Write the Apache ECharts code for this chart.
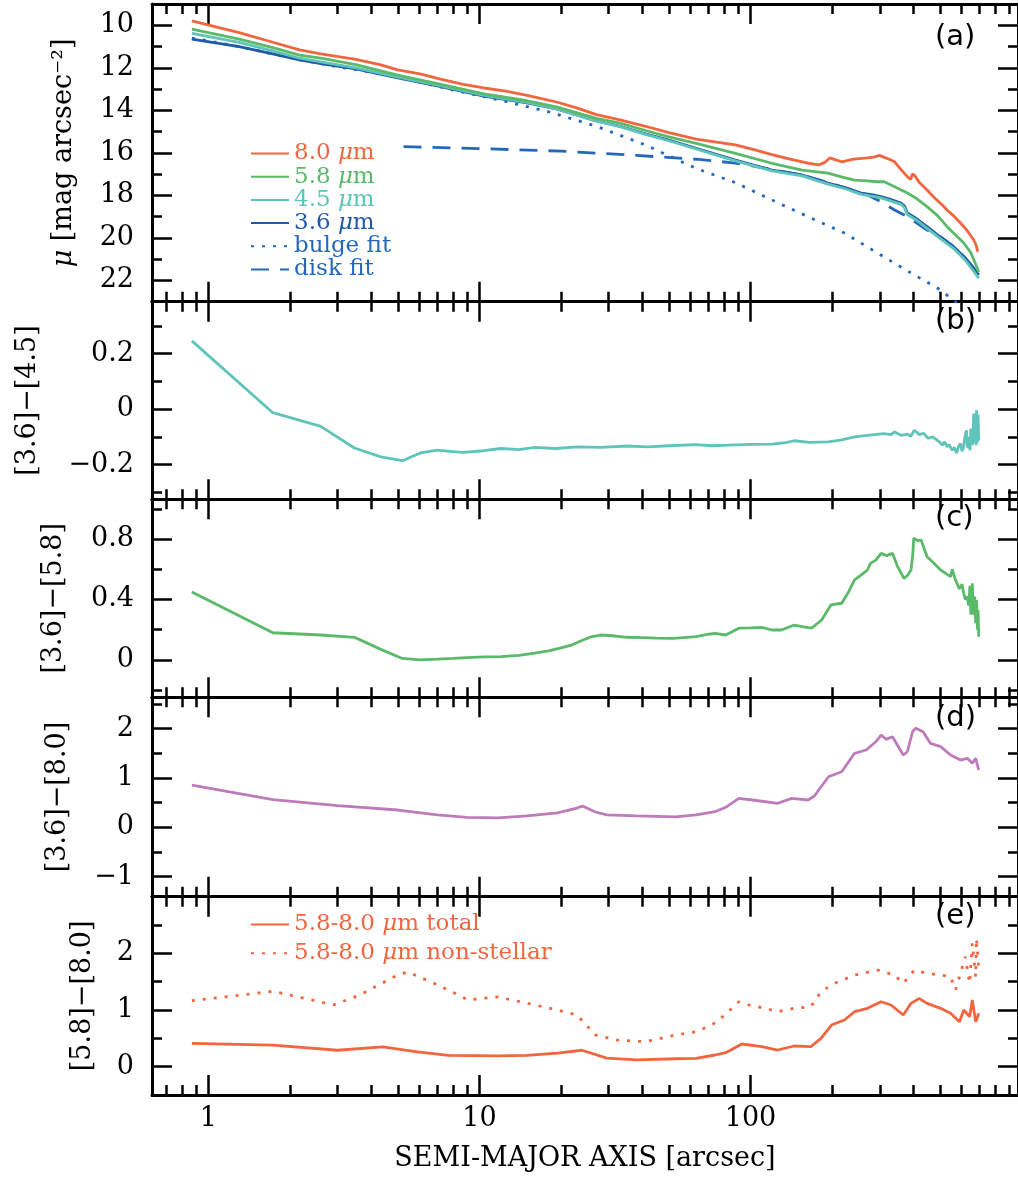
<!DOCTYPE html>
<html><head><meta charset="utf-8">
<script src="https://cdn.jsdelivr.net/npm/echarts@6/dist/echarts.min.js"></script>
<style>html,body{margin:0;padding:0;background:#fff}#c{width:1018px;height:1185px}</style>
</head><body><div id="c"></div>
<script>
// ---------------- DATA ----------------
// x axis ticks (semi-major axis, arcsec)
const xMajorTicks = [1, 10, 100];
const xMinorTicks = [0.7,0.8,0.9,2,3,4,5,6,7,8,9,20,30,40,50,60,70,80,90,200,300,400,500,600,700,800,900];

// Panel (a): surface brightness profiles [mag arcsec^-2]
const r80  = [0.87,1.3,1.73,2.17,2.6,3.5,4.3,5.0,6.1,7.0,8.7,10.4,12.5,15,19.4,23,27,33,41,50,63,75,88,103,120,140,163,178,188,196,205,217,240,270,285,299,310,325,340,360,379,390,395,402,420,448,480,510,531,560,595,630,666,680,689];
const mu80 = [9.79,10.35,10.8,11.16,11.35,11.6,11.85,12.1,12.3,12.5,12.78,12.95,13.1,13.3,13.62,13.9,14.2,14.45,14.75,15.05,15.35,15.5,15.63,15.85,16.08,16.3,16.48,16.57,16.45,16.24,16.32,16.42,16.3,16.24,16.2,16.12,16.2,16.3,16.42,16.8,17.12,17.25,17.0,17.04,17.4,17.75,18.15,18.45,18.69,18.95,19.3,19.65,20.1,20.35,20.65];
const r58  = [0.87,1.3,1.73,2.17,2.6,3.5,5.0,7.0,10.4,15,19.4,27,33,41,50,63,88,120,155,193,220,242,270,294,310,340,379,410,448,490,531,570,612,650,683,695];
const mu58 = [10.18,10.65,11.05,11.4,11.55,11.85,12.34,12.75,13.23,13.55,13.85,14.38,14.6,14.95,15.25,15.55,16.02,16.49,16.81,16.95,17.15,17.28,17.32,17.36,17.35,17.59,17.89,18.15,18.53,18.95,19.47,19.85,20.24,20.7,21.36,21.6];
const r45  = [0.87,1.3,1.73,2.17,2.6,3.5,5.0,7.0,10.4,15,19.4,27,33,41,50,63,88,120,155,193,225,256,280,303,330,359,370,379,410,448,500,562,620,660,695];
const mu45 = [10.38,10.8,11.2,11.55,11.72,12.0,12.44,12.82,13.3,13.63,13.94,14.5,14.77,15.13,15.43,15.82,16.38,16.85,17.08,17.47,17.7,17.95,18.03,18.12,18.27,18.42,18.58,18.9,19.17,19.55,20.02,20.5,21.05,21.5,21.9];
const r36  = [0.87,1.3,1.73,2.17,2.6,3.5,5.0,7.0,10.4,15,19.4,27,33,41,50,63,88,120,155,193,225,256,280,303,330,359,370,379,410,448,500,562,620,660,695];
const mu36 = [10.65,11.0,11.35,11.63,11.8,12.05,12.48,12.85,13.33,13.65,13.94,14.5,14.75,15.11,15.4,15.79,16.34,16.81,17.04,17.42,17.65,17.89,17.97,18.06,18.2,18.36,18.5,18.83,19.1,19.47,19.95,20.42,20.95,21.35,21.75];
const rBulge  = [0.87,1.3,1.73,2.17,3.0,5.0,7.7,11.7,17.8,27,41,63,88,120,163,222,294,391,503,547,590];
const muBulge = [10.6,11.0,11.35,11.62,11.95,12.42,13.0,13.5,14.05,14.75,15.63,16.73,17.4,18.22,19.0,19.77,20.71,21.65,22.45,22.83,23.15];
const rDisk  = [5.25,10,20,38,63,88,120,155,200,270,303,340,379,448,503,563,620,683];
const muDisk = [15.71,15.8,15.92,16.12,16.3,16.48,16.78,17.04,17.45,17.98,18.3,18.69,19.0,19.63,19.95,20.42,20.95,21.65];

// Panel (b): [3.6]-[4.5]
const rB = [0.87,1.73,2.6,3.46,4.33,5.2,6.06,7.0,7.8,8.7,10.4,12,14,16,19,23,28,35,42,50,63,72,83,100,120,135,145,165,193,215,242,270,310,330,340,360,379,390,402,420,435,452,470,500,510,520,531,540,555,565,576,585,595,603,610,618,626,630,635,640,645,650,655,660,666,669,672,675,678,680,682,685,688,691,695];
const c3645 = [0.246,-0.013,-0.062,-0.14,-0.172,-0.186,-0.158,-0.148,-0.152,-0.156,-0.15,-0.142,-0.146,-0.138,-0.142,-0.136,-0.138,-0.133,-0.136,-0.132,-0.128,-0.132,-0.13,-0.127,-0.126,-0.121,-0.114,-0.12,-0.118,-0.112,-0.1,-0.095,-0.088,-0.092,-0.082,-0.095,-0.09,-0.098,-0.076,-0.092,-0.087,-0.105,-0.1,-0.12,-0.13,-0.118,-0.136,-0.128,-0.148,-0.138,-0.159,-0.135,-0.124,-0.152,-0.14,-0.1,-0.076,-0.13,-0.14,-0.1,-0.148,-0.07,-0.09,-0.13,-0.016,-0.12,-0.112,-0.04,-0.05,-0.13,-0.004,-0.1,-0.12,-0.02,-0.112];

// Panel (c): [3.6]-[5.8]
const rC = [0.87,1.73,2.6,3.46,4.33,5.2,6.06,7.0,8.0,9.0,10.4,12,14,16,18,20,22,24,26,28,31,35,40,45,52,63,70,74,81,90.6,100,110,120,130,145,155,168,183,198,217,230,242,255,270,277,290,303,318,334,349,368,380,391,397,400,413,426,448,475,503,547,555,563,570,580,588,596,603,610,620,631,638,645,650,658,663,667,672,677,680,682,685,688,691,695];
const c3658 = [0.45,0.18,0.165,0.15,0.07,0.01,0.0,0.005,0.01,0.015,0.02,0.022,0.03,0.045,0.06,0.08,0.1,0.13,0.155,0.165,0.16,0.15,0.148,0.145,0.143,0.154,0.17,0.176,0.165,0.21,0.212,0.216,0.198,0.198,0.231,0.22,0.21,0.264,0.364,0.375,0.45,0.529,0.56,0.595,0.639,0.66,0.705,0.69,0.705,0.617,0.54,0.56,0.595,0.7,0.805,0.79,0.793,0.683,0.64,0.595,0.551,0.6,0.595,0.53,0.5,0.47,0.463,0.5,0.45,0.4,0.419,0.36,0.49,0.3,0.507,0.35,0.3,0.42,0.243,0.35,0.397,0.25,0.2,0.33,0.154];

// Panel (d): [3.6]-[8.0]
const rD = [0.87,1.73,3.0,5.0,7.0,9.0,11.7,15,19.4,22.9,24,26.8,29.5,38,53,63,74,81,90.6,101.7,126,142,163,172,194,217,242,267,290,303.5,316,334,366,379,396,407,433,461,503,547,595,631,658,677,695];
const c3680 = [0.856,0.56,0.44,0.35,0.25,0.2,0.19,0.23,0.29,0.39,0.43,0.31,0.25,0.23,0.21,0.25,0.316,0.405,0.587,0.553,0.486,0.587,0.553,0.634,1.024,1.126,1.498,1.565,1.733,1.868,1.781,1.834,1.464,1.53,1.935,2.004,1.935,1.7,1.632,1.464,1.362,1.397,1.296,1.397,1.16];

// Panel (e): [5.8]-[8.0]
const rTot = [0.87,1.73,3.0,4.4,5.9,7.7,11.7,15,19.4,23.9,29.5,38,53,63,74,81,93,110,126,145,167,182,199,222,242,270,303,330,366,391,419,448,503,547,590,612,643,658,677,695];
const c5880tot = [0.41,0.38,0.29,0.35,0.26,0.2,0.19,0.2,0.24,0.29,0.15,0.12,0.14,0.148,0.206,0.247,0.4,0.353,0.294,0.365,0.353,0.5,0.735,0.824,0.97,1.03,1.146,1.088,0.912,1.118,1.206,1.118,1.03,0.942,0.794,1.0,0.882,1.176,0.794,0.942];
const rNon = [0.87,1.73,2.9,3.6,5.0,5.45,7.05,9.07,11.7,15,19.4,22.9,26.8,32.2,41,53,63,72,79,90.6,99,113,126,145,167,182,204,242,294,340,366,402,448,503,547,570,595,620,643,658,677,682,695];
const c5880non = [1.164,1.33,1.09,1.26,1.62,1.67,1.44,1.18,1.23,1.12,1.0,0.91,0.56,0.47,0.44,0.56,0.617,0.735,0.882,1.146,1.088,1.03,0.97,1.03,1.058,1.323,1.47,1.617,1.705,1.617,1.47,1.705,1.647,1.617,1.587,1.353,1.647,1.94,1.47,2.176,1.587,2.265,1.705];

// y tick values per panel
const yMajor = [[10,12,14,16,18,20,22],[-0.2,0,0.2],[0,0.4,0.8],[-1,0,1,2],[0,1,2]];
const yMinor = [[11,13,15,17,19,21],[-0.3,-0.1,0.1,0.3],[-0.2,0.2,0.6,1.0],[-0.5,0.5,1.5,2.5],[0.5,1.5,2.5]];
const yRange = [[9,23],[-0.325,0.387],[-0.247,1.0625],[-1.405,2.632],[-0.5,3.0]];
const yTitles = ['{i|μ} [mag arcsec⁻²]','[3.6]−[4.5]','[3.6]−[5.8]','[3.6]−[8.0]','[5.8]−[8.0]'];
const panelTags = ['(a)','(b)','(c)','(d)','(e)'];

// ---------------- LAYOUT / STYLE ----------------
const layout = [
  {top:4, height:297.7, gap:75, tagY:37.5},
  {top:301.7, height:197.6, gap:111, tagY:322},
  {top:499.3, height:198, gap:85, tagY:519},
  {top:697.3, height:199.4, gap:81, tagY:719},
  {top:896.7, height:198.3, gap:56, tagY:917}
];
const XMIN = 0.62, XMAX = 970;
const SERIF = 'DejaVu Serif';
const C = {o:'#F1663F', g:'#5BB96A', t:'#5FC4B9', b:'#1F5BAA', fit:'#2468BE', p:'#BE7BBA'};

const grids = [], xAxes = [], yAxes = [];
const tickStyle = {color:'#000', width:2.5};
layout.forEach((L, k) => {
  grids.push({left:152, right:-7, top:L.top, height:L.height});
  const last = k === 4;
  [['bottom',true],['bottom',false],['top',true],['top',false]].forEach(([pos, major], j) => {
    const ax = {
      type:'log', logBase:10, gridIndex:k, position:pos, min:XMIN, max:XMAX,
      axisLine:{show:major, onZero:false, lineStyle:{color:'#000', width:3}},
      axisTick:{show:true, inside:true, length:major?20:10, customValues: major?xMajorTicks:xMinorTicks, lineStyle:tickStyle},
      axisLabel:{show: last && j===0, customValues:xMajorTicks, margin:10, color:'#000', fontFamily:SERIF, fontSize:27, formatter:v=>String(v)},
      splitLine:{show:false}, minorTick:{show:false}, axisPointer:{show:false}
    };
    if (last && j===0) {
      ax.name = 'SEMI-MAJOR AXIS [arcsec]';
      ax.nameLocation = 'middle'; ax.nameGap = 50;
      ax.nameTextStyle = {fontFamily:SERIF, fontSize:27, color:'#000'};
    }
    xAxes.push(ax);
  });
  [['left',true],['left',false],['right',true],['right',false]].forEach(([pos, major], j) => {
    const ax = {
      type:'value', gridIndex:k, position:pos, min:yRange[k][0], max:yRange[k][1], inverse:k===0,
      axisLine:{show:major, onZero:false, lineStyle:{color:'#000', width:3}},
      axisTick:{show:true, inside:true, length:major?20:10, customValues: major?yMajor[k]:yMinor[k], lineStyle:tickStyle},
      axisLabel:{show:j===0, customValues:yMajor[k], margin:18, color:'#000', fontFamily:SERIF, fontSize:27,
        formatter:v=>String(v).replace('-','−')},
      splitLine:{show:false}, minorTick:{show:false}
    };
    if (j===0) {
      ax.name = yTitles[k]; ax.nameLocation='middle'; ax.nameGap=L.gap;
      ax.nameTextStyle = {fontFamily:SERIF, fontSize:27, color:'#000', rich:{i:{fontFamily:SERIF, fontSize:27, fontStyle:'italic', color:'#000'}}};
    }
    yAxes.push(ax);
  });
});

const zip = (xs, ys) => xs.map((x,i)=>[x, ys[i]]);
function line(name, k, xs, ys, color, type, width) {
  return {name, type:'line', xAxisIndex:4*k, yAxisIndex:4*k, data:zip(xs,ys), symbol:'none', showSymbol:false,
    lineStyle:{color, width:width||2.8, type:type||'solid'}, itemStyle:{color}, clip:true, z:3};
}
const series = [
  line('bulge fit',0,rBulge,muBulge,C.fit,[3,8],2.8),
  line('disk fit',0,rDisk,muDisk,C.fit,[18,11],2.8),
  line('3.6 μm',0,r36,mu36,C.b),
  line('4.5 μm',0,r45,mu45,C.t),
  line('5.8 μm',0,r58,mu58,C.g),
  line('8.0 μm',0,r80,mu80,C.o),
  line('[3.6]-[4.5]',1,rB,c3645,C.t),
  line('[3.6]-[5.8]',2,rC,c3658,C.g),
  line('[3.6]-[8.0]',3,rD,c3680,C.p),
  line('5.8-8.0 μm total',4,rTot,c5880tot,C.o),
  line('5.8-8.0 μm non-stellar',4,rNon,c5880non,C.o,[3,8],2.8)
];

const legFmt = n => n.replace('μ','{i|μ}');
const legRich = {i:{fontFamily:SERIF, fontSize:23, fontStyle:'italic', lineHeight:21}};
const legCommon = {orient:'vertical', left:250, padding:0, itemWidth:38, itemHeight:14, selectedMode:false,
  itemStyle:{opacity:0, borderWidth:0}, formatter:legFmt,
  textStyle:{fontFamily:SERIF, fontSize:23, lineHeight:21, rich:legRich}};
const legends = [
  Object.assign({}, legCommon, {top:142, itemGap:0.2,
   data:[['8.0 μm',C.o],['5.8 μm',C.g],['4.5 μm',C.t],['3.6 μm',C.b],['bulge fit',C.fit],['disk fit',C.fit]].map(([n,c])=>({name:n, textStyle:{color:c}}))}),
  Object.assign({}, legCommon, {top:913, itemGap:5.7,
   data:[['5.8-8.0 μm total',C.o],['5.8-8.0 μm non-stellar',C.o]].map(([n,c])=>({name:n, textStyle:{color:c}}))})
];

const graphic = layout.map((L,k)=>({type:'text', left:935, top:L.tagY-15, z:10,
  style:{text:panelTags[k], fill:'#000', font:'29px "DejaVu Sans"'}}));

const chart = echarts.init(document.getElementById('c'), null, {renderer:'canvas'});
chart.setOption({animation:false, backgroundColor:'#fff', grid:grids, xAxis:xAxes, yAxis:yAxes, series, legend:legends, graphic});
</script></body></html>
